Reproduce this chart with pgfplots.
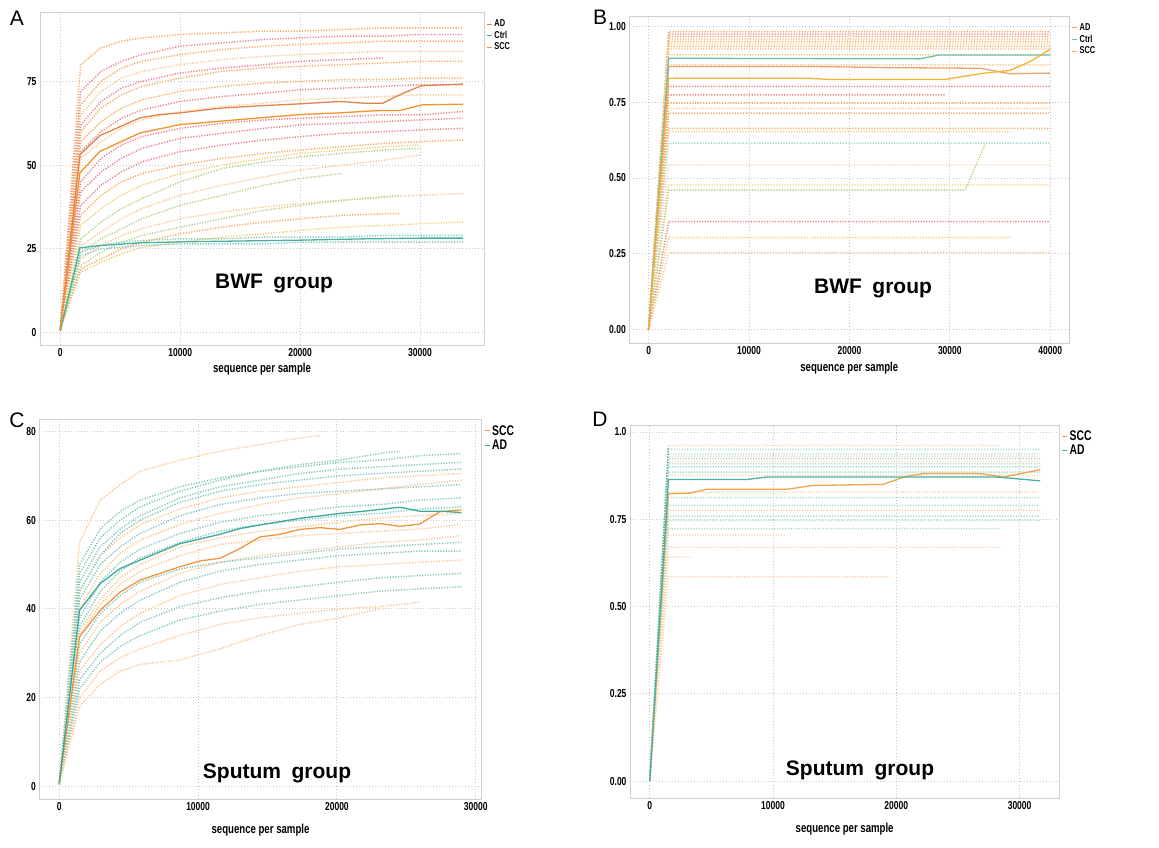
\documentclass[border=0pt]{standalone}
\usepackage{fontspec}
\setmainfont{Liberation Sans}
\newfontfamily\cond[FakeStretch=0.74]{Liberation Sans}
\usepackage{pgfplots}
\pgfplotsset{compat=1.18}
\definecolor{adA}{HTML}{E0854A}
\definecolor{sccA}{HTML}{F4922B}
\definecolor{tealA}{HTML}{4BAF9E}
\definecolor{dOr}{HTML}{F7AA60}
\definecolor{dLo}{HTML}{F9C590}
\definecolor{dPk}{HTML}{EC8088}
\definecolor{dYe}{HTML}{F0CD72}
\definecolor{dGr}{HTML}{AFD285}
\definecolor{dTe}{HTML}{80C8BB}
\definecolor{dTe2}{HTML}{A5DAD0}
\definecolor{dLo2}{HTML}{FAD5AE}
\definecolor{adB}{HTML}{EFA06C}
\definecolor{tealB}{HTML}{6CC0B0}
\definecolor{sccB}{HTML}{F6B232}
\definecolor{sccC}{HTML}{F0963A}
\definecolor{adC}{HTML}{3FA89A}
\definecolor{sccD}{HTML}{F2A54E}
\definecolor{adD}{HTML}{4AB0A2}
\definecolor{frame}{HTML}{CFCFCF}
\pgfplotsset{
 panel/.style={scale only axis, axis line style={draw=frame, line width=0.8pt},
  tick style={draw=none}, xmajorgrids, ymajorgrids,
  major grid style={draw=gray!45, line width=0.9pt, dash pattern=on 1pt off 2.2pt},
  tick label style={font=\cond\bfseries\fontsize{11.5}{13}\selectfont, text=black},
  xlabel style={font=\cond\bfseries\fontsize{13}{15}\selectfont},
  scaled x ticks=false, scaled y ticks=false,
  /pgf/number format/assume math mode=true, /pgf/number format/1000 sep={},
  unbounded coords=jump,
  legend style={draw=none, fill=none, font=\cond\bfseries\fontsize{10}{11}\selectfont,
   at={(1.005,0.985)}, anchor=north west, inner sep=0pt, row sep=-1pt},
  legend cell align=left,
  legend image code/.code={\draw[#1, line width=1pt] (0pt,0pt) -- (5pt,0pt);}},
 dots/.style={line width=1.45pt, dash pattern=on 1.2pt off 1.5pt, forget plot},
 sline/.style={line width=1.3pt, solid}
}
\begin{document}
\begin{tikzpicture}
\path[use as bounding box] (0pt,0pt) rectangle (1159pt,-847pt);
% ---------------- A ----------------
\begin{axis}[panel, at={(40pt,-12.7pt)}, anchor=north west, width=444pt, height=332.3pt,
 xmin=-1693, xmax=35337, ymin=-3.7, ymax=95.5, xtick={0,10000,20000,30000}, ytick={0,25,50,75},
 xlabel={sequence per sample}]
\addplot[dots, dOr] coordinates {(0,1)(1700,80)(3400,85)(5100,87)(6800,88)(10000,89)(13500,89.5)(17000,90)(20000,90)(23500,90.5)(27000,91)(30000,91)(33600,91)};
\addplot[dots, dPk] coordinates {(0,1)(1700,72)(3400,78)(5100,81)(6800,83)(10000,85.5)(13500,86.5)(17000,87.5)(20000,88)(23500,88.5)(27000,88.5)(30000,89)(33600,89)};
\addplot[dots, dOr] coordinates {(0,1)(1700,68)(3400,75)(5100,79)(6800,81)(10000,83)(13500,84.5)(17000,85.5)(20000,86)(23500,86.5)(27000,87)(30000,87)(33600,87)};
\addplot[dots, dLo] coordinates {(0,1)(1700,65)(3400,72)(5100,76)(6800,78)(10000,80)(13500,81.5)(17000,82.5)(20000,83)(23500,83.5)(27000,84)(30000,84)(33600,84)};
\addplot[dots, dPk] coordinates {(0,1)(1700,62)(3400,69)(5100,73)(6800,75)(10000,77.5)(13500,79)(17000,80)(20000,81)(23500,81.5)(27000,82)};
\addplot[dots, dOr] coordinates {(0,1)(1700,60)(3400,67)(5100,71)(6800,73.5)(10000,76)(13500,78)(17000,79)(20000,79.5)(23500,80)(27000,80.5)(30000,81)(33600,81)};
\addplot[dots, dOr] coordinates {(0,1)(1700,57)(3400,63)(5100,67)(6800,69.5)(10000,72)(13500,73.5)(17000,74.5)(20000,75)(23500,75.5)(27000,75.5)(30000,76)(33600,76)};
\addplot[dots, dPk] coordinates {(0,1)(1700,54)(3400,60)(5100,64)(6800,66.5)(10000,69)(13500,70.5)(17000,71.5)(20000,72.5)(23500,73)(27000,73.5)(30000,74)(33600,74)};
\addplot[dots, dLo] coordinates {(0,1)(1700,52)(3400,57)(5100,61)(6800,63.5)(10000,66)(13500,67.5)(17000,68.5)(20000,69.5)(23500,70)(27000,70.5)(30000,71)(33600,71)};
\addplot[dots, dPk] coordinates {(0,1)(1700,45)(3400,52)(5100,56)(6800,58.5)(10000,61)(13500,62.5)(17000,63.5)(20000,64)(23500,64.5)(27000,65)(30000,65)(33600,66)};
\addplot[dots, dPk] coordinates {(0,1)(1700,42)(3400,48)(5100,52)(6800,55)(10000,58)(13500,59.5)(17000,61)(20000,62)(23500,62.5)(27000,63)(30000,63.5)(33600,64)};
\addplot[dots, dPk] coordinates {(0,1)(1700,38)(3400,44)(5100,48)(6800,51)(10000,54)(13500,56)(17000,57.5)(20000,58.5)(23500,59.5)(27000,60)(30000,60.5)(33600,61)};
\addplot[dots, dOr] coordinates {(0,1)(1700,35)(3400,41)(5100,45)(6800,47.5)(10000,50)(13500,52)(17000,53.5)(20000,54.5)(23500,55.5)(27000,56.5)(30000,57)(33600,57.5)};
\addplot[dots, dYe] coordinates {(0,1)(1700,32)(3400,37)(5100,41)(6800,44)(10000,47.5)(13500,50)(17000,52)(20000,53.5)(23500,54.5)(27000,55.5)(30000,56)};
\addplot[dots, dGr] coordinates {(0,1)(1700,28)(3400,33)(5100,37)(6800,40)(10000,45)(13500,49)(17000,51)(20000,52.5)(23500,53.5)(27000,54.5)(30000,55)};
\addplot[dots, dLo] coordinates {(0,1)(1700,26)(3400,30)(5100,34)(6800,37)(10000,41)(13500,44)(17000,46.5)(20000,48.5)(23500,50)(27000,51.5)(30000,53)};
\addplot[dots, dGr] coordinates {(0,1)(1700,24)(3400,28)(5100,31)(6800,34)(10000,38)(13500,41)(17000,44)(20000,46)(23500,47.5)};
\addplot[dots, dLo] coordinates {(0,1)(1700,22)(3400,26)(5100,29)(6800,31)(10000,34)(13500,36)(17000,37.5)(20000,38.5)(23500,39.5)(27000,40.5)(30000,41)(33600,41.5)};
\addplot[dots, dGr] coordinates {(0,1)(1700,20)(3400,24)(5100,27)(6800,29)(10000,31.5)(13500,34)(17000,36.5)(20000,38)(23500,39.5)(27000,40.5)(28300,41)};
\addplot[dots, dOr] coordinates {(0,1)(1700,19)(3400,22)(5100,25)(6800,27)(10000,29.5)(13500,31.5)(17000,33)(20000,34)(23500,35)(27000,35.5)(28300,35.5)};
\addplot[dots, dYe] coordinates {(0,1)(1700,18)(3400,21)(5100,23.5)(6800,25.5)(10000,27)(13500,28.5)(17000,29.5)(20000,30.5)(23500,31.5)(27000,32)(30000,32.5)(33600,33)};
\addplot[dots, dTe] coordinates {(0,1)(1700,24)(3400,26)(5100,27)(6800,27.5)(10000,28)(13500,28)(17000,28.5)(20000,28.5)(23500,28.5)(27000,29)(30000,29)(33600,29)};
\addplot[dots, dTe] coordinates {(0,1)(1700,23)(3400,25)(5100,25.5)(6800,26)(10000,26.5)(13500,26.5)(17000,26.5)(20000,27)(23500,27)(27000,27)(30000,27)(33600,27)};
\addplot[sline, adA] coordinates {(0,1)(1640,53.1)(3300,58.8)(6640,64.1)(8300,65.1)(10000,65.6)(13300,67)(16600,67.7)(20000,68.3)(23300,69)(25250,68.5)(26900,68.5)(28300,71)(30100,73.7)(33600,74.2)};
\addlegendentry{AD}
\addplot[sline, tealA] coordinates {(0,0.5)(1640,25.3)(3300,26)(6640,26.8)(10000,27.1)(20000,27.6)(25500,28)(30000,28.2)(33600,28.2)};
\addlegendentry{Ctrl}
\addplot[sline, sccA] coordinates {(0,1)(1640,47.7)(3300,54.1)(6640,59.6)(10000,62.1)(13300,63.1)(16600,64.1)(20000,65.1)(23300,65.6)(26600,66.3)(28300,66.3)(30200,68)(33600,68.2)};
\addlegendentry{SCC}
\end{axis}
% ---------------- B ----------------
\begin{axis}[panel, at={(629.3pt,-16.7pt)}, anchor=north west, width=440pt, height=326.6pt,
 xmin=-1925, xmax=41900, ymin=-0.045, ymax=1.032, xtick={0,10000,20000,30000,40000},
 ytick={0,0.25,0.5,0.75,1}, yticklabels={0.00,0.25,0.50,0.75,1.00},
 xlabel={sequence per sample}]
\addplot[dots, dOr] coordinates {(0,0)(2000,0.983)(40000,0.983)};
\addplot[dots, dPk] coordinates {(0,0)(2000,0.975)(40000,0.975)};
\addplot[dots, dOr] coordinates {(0,0)(2000,0.967)(40000,0.967)};
\addplot[dots, dLo] coordinates {(0,0)(2000,0.958)(40000,0.958)};
\addplot[dots, dOr] coordinates {(0,0)(2000,0.950)(40000,0.950)};
\addplot[dots, dYe] coordinates {(0,0)(2000,0.942)(40000,0.942)};
\addplot[dots, dOr] coordinates {(0,0)(2000,0.934)(40000,0.934)};
\addplot[dots, dLo] coordinates {(0,0)(2000,0.926)(40000,0.926)};
\addplot[dots, dYe] coordinates {(0,0)(2000,0.906)(40000,0.906)};
\addplot[dots, dLo] coordinates {(0,0)(2000,0.873)(40000,0.873)};
\addplot[dots, dPk] coordinates {(0,0)(2000,0.802)(40000,0.802)};
\addplot[dots, dPk] coordinates {(0,0)(2000,0.774)(29500,0.774)};
\addplot[dots, dOr] coordinates {(0,0)(2000,0.747)(40000,0.747)};
\addplot[dots, dLo] coordinates {(0,0)(2000,0.730)(40000,0.730)};
\addplot[dots, dOr] coordinates {(0,0)(2000,0.714)(40000,0.714)};
\addplot[dots, dOr] coordinates {(0,0)(2000,0.664)(40000,0.664)};
\addplot[dots, dLo] coordinates {(0,0)(2000,0.653)(36000,0.653)};
\addplot[dots, dTe2] coordinates {(0,0)(2000,0.615)(40000,0.615)};
\addplot[dots, dLo2] coordinates {(0,0)(2000,0.543)(40000,0.543)};
\addplot[dots, dYe] coordinates {(0,0)(2000,0.477)(40000,0.477)};
\addplot[dots, dGr] coordinates {(0,0)(2000,0.460)(31500,0.460)(33500,0.610)};
\addplot[dots, dPk] coordinates {(0,0)(2000,0.356)(40000,0.356)};
\addplot[dots, dYe] coordinates {(0,0)(2000,0.304)(36000,0.304)};
\addplot[dots, dLo] coordinates {(0,0)(2000,0.254)(40000,0.254)};
\addplot[sline, adB] coordinates {(0,0)(2000,0.868)(16000,0.868)(24000,0.864)(33000,0.862)(36000,0.844)(40000,0.846)};
\addlegendentry{AD}
\addplot[sline, tealB] coordinates {(0,0)(2000,0.895)(27000,0.893)(29000,0.906)(40000,0.906)};
\addlegendentry{Ctrl}
\addplot[sline, sccB] coordinates {(0,0)(2000,0.829)(16000,0.829)(18000,0.825)(29500,0.825)(33000,0.844)(36000,0.855)(38000,0.884)(40000,0.925)};
\addlegendentry{SCC}
\end{axis}
% ---------------- C ----------------
\begin{axis}[panel, at={(39.3pt,-419.3pt)}, anchor=north west, width=442.4pt, height=380pt,
 xmin=-1439, xmax=30432, ymin=-2.9, ymax=82.7, xtick={0,10000,20000,30000}, ytick={0,20,40,60,80},
 xlabel={sequence per sample}, xlabel style={yshift=-6pt},
 legend style={font=\cond\bfseries\fontsize{14}{15}\selectfont, at={(1.005,0.99)}}]
\addplot[dots, dLo] coordinates {(0,0.5)(1460,55)(2950,64.5)(4390,68)(5830,71)(8700,73.5)(11580,75.5)(14460,77)(17340,78.5)(18780,79)};
\addplot[dots, dTe] coordinates {(0,0.5)(1460,50)(2950,58)(4390,62)(5830,64.5)(8700,67.5)(11580,69.5)(14460,71)(17340,72)(20220,73)(23100,73.5)(25970,74.5)(28970,75)};
\addplot[dots, dTe] coordinates {(0,0.5)(1460,48)(2950,56)(4390,60)(5830,63)(8700,66.5)(11580,69)(14460,71)(17340,72.5)(20220,73.5)(23100,75)(24530,75.5)};
\addplot[dots, dTe] coordinates {(0,0.5)(1460,46)(2950,54)(4390,58)(5830,61)(8700,65)(11580,67.5)(14460,69)(17340,70.5)(20220,71.5)(23100,72)(25970,72.5)(28970,73)};
\addplot[dots, dLo] coordinates {(0,0.5)(1460,44)(2950,52)(4390,56)(5830,59)(8700,62.5)(11580,65)(14460,66.5)(17340,67.5)(20220,68.5)(23100,69.5)(25970,70)(28970,70.5)};
\addplot[dots, dTe] coordinates {(0,0.5)(1460,44)(2950,52)(4390,57)(5830,60)(8700,64)(11580,66.5)(14460,68)(17340,69)(20220,70)(23100,70.5)(25970,71)(28970,71.5)};
\addplot[dots, dTe] coordinates {(0,0.5)(1460,42)(2950,50)(4390,54)(5830,57)(8700,61)(11580,63.5)(14460,65)(17340,66)(20220,66.5)(23100,67)(25970,67.5)(28970,68)};
\addplot[dots, dLo] coordinates {(0,0.5)(1460,40)(2950,48)(4390,52.5)(5830,55.5)(8700,59)(11580,61.5)(14460,63.5)(17340,65)(20220,66)(23100,67)(25970,68)(28970,69)};
\addplot[dots, dTe] coordinates {(0,0.5)(1460,38)(2950,46)(4390,50.5)(5830,53.5)(8700,57)(11580,59.5)(14460,61)(17340,62)(20220,63)(23100,63.5)(25970,64.5)(28970,65)};
\addplot[dots, dTe] coordinates {(0,0.5)(1460,36)(2950,44)(4390,48.5)(5830,51.5)(8700,55)(11580,57.5)(14460,59)(17340,60)(20220,61)(23100,61.5)(25970,62.5)(28970,63)};
\addplot[dots, dLo] coordinates {(0,0.5)(1460,35)(2950,42)(4390,47)(5830,50)(8700,54)(11580,56)(14460,57.5)(17340,58.5)(20220,59.5)(23100,60.5)(25970,61)(28970,61.5)};
\addplot[dots, dLo] coordinates {(0,0.5)(1460,34)(2950,41)(4390,45.5)(5830,48.5)(8700,52)(11580,54.5)(14460,55.5)(17340,56.5)(20220,57)(23100,57.5)(25970,58)(28970,59)};
\addplot[dots, dLo] coordinates {(0,0.5)(1460,30)(2950,37)(4390,41)(5830,44)(8700,48)(11580,50.5)(14460,52)(17340,53)(20220,54)(23100,55)(25970,55.5)(28970,56.5)};
\addplot[dots, dTe] coordinates {(0,0.5)(1460,32)(2950,39)(4390,43)(5830,46)(8700,49)(11580,50.5)(14460,51.5)(17340,52.5)(20220,53.5)(23100,54)(25970,54.5)(28970,55)};
\addplot[dots, dTe] coordinates {(0,0.5)(1460,28)(2950,35)(4390,39)(5830,42)(8700,46)(11580,48.5)(14460,50)(17340,51)(20220,52)(23100,52.5)(25970,53)(28970,53)};
\addplot[dots, dLo] coordinates {(0,0.5)(1460,26)(2950,32)(4390,36)(5830,39)(8700,43)(11580,45.5)(14460,47)(17340,48.5)(20220,49.5)(23100,50)(25970,50.5)(28970,51)};
\addplot[dots, dTe] coordinates {(0,0.5)(1460,24)(2950,30)(4390,34)(5830,37)(8700,40.5)(11580,42.5)(14460,44)(17340,45)(20220,46)(23100,47)(25970,47.5)(28970,48)};
\addplot[dots, dTe] coordinates {(0,0.5)(1460,22)(2950,28)(4390,31.5)(5830,34)(8700,37.5)(11580,39.5)(14460,41)(17340,42)(20220,43)(23100,44)(25970,44.5)(28970,45)};
\addplot[dots, dLo] coordinates {(0,0.5)(1460,20)(2950,26)(4390,29)(5830,31)(8700,34)(11580,36.5)(14460,38)(17340,39)(20220,40)(23100,40.5)(25970,41.5)};
\addplot[dots, dLo] coordinates {(0,0.5)(1460,18)(2950,23)(4390,26)(5830,27.5)(8700,28.5)(11580,31)(14460,34)(17340,36.5)(20220,38)(23100,40)};
\addplot[sline, sccC] coordinates {(0,0.75)(1460,33.7)(2950,39.7)(4390,43.8)(5830,46.5)(8700,49.5)(10140,50.8)(11580,51.4)(13020,53.6)(14460,56.2)(15900,56.8)(17340,57.9)(18780,58.3)(20220,57.9)(21660,58.9)(23100,59.2)(24530,58.6)(25970,59.1)(27410,61.9)(28970,62.3)};
\addlegendentry{SCC}
\addplot[sline, adC] coordinates {(0,0.75)(1460,39.7)(2950,45.7)(4390,49.1)(5830,51)(8700,54.7)(11580,56.8)(13020,58.1)(14460,58.9)(17340,60.4)(20220,61.5)(21660,61.9)(23100,62.4)(24530,62.9)(25970,62)(27410,62)(28970,61.7)};
\addlegendentry{AD}
\end{axis}
% ---------------- D ----------------
\begin{axis}[panel, at={(630pt,-425pt)}, anchor=north west, width=429.3pt, height=373.3pt,
 xmin=-1600, xmax=33220, ymin=-0.049, ymax=1.02, xtick={0,10000,20000,30000},
 ytick={0,0.25,0.5,0.75,1}, yticklabels={0.00,0.25,0.50,0.75,1.0},
 xlabel={sequence per sample}, xlabel style={yshift=-6pt},
 legend style={font=\cond\bfseries\fontsize{14}{15}\selectfont, at={(1.005,0.99)}}]
\addplot[dots, dLo2] coordinates {(0,0)(1515,0.962)(28500,0.962)};
\addplot[dots, dTe2] coordinates {(0,0)(1515,0.950)(31670,0.950)};
\addplot[dots, dTe2] coordinates {(0,0)(1515,0.937)(31670,0.937)};
\addplot[dots, dLo2] coordinates {(0,0)(1515,0.930)(31670,0.930)};
\addplot[dots, dTe2] coordinates {(0,0)(1515,0.924)(31670,0.924)};
\addplot[dots, dLo2] coordinates {(0,0)(1515,0.915)(31670,0.915)};
\addplot[dots, dTe2] coordinates {(0,0)(1515,0.909)(31670,0.909)};
\addplot[dots, dTe2] coordinates {(0,0)(1515,0.900)(31670,0.900)};
\addplot[dots, dTe2] coordinates {(0,0)(1515,0.885)(31670,0.885)};
\addplot[dots, dLo2] coordinates {(0,0)(1515,0.876)(31670,0.876)};
\addplot[dots, dLo2] coordinates {(0,0)(1515,0.828)(31670,0.828)};
\addplot[dots, dTe2] coordinates {(0,0)(1515,0.812)(31670,0.812)};
\addplot[dots, dTe2] coordinates {(0,0)(1515,0.790)(31670,0.790)};
\addplot[dots, dLo2] coordinates {(0,0)(1515,0.776)(31670,0.776)};
\addplot[dots, dTe2] coordinates {(0,0)(1515,0.759)(31670,0.759)};
\addplot[dots, dTe2] coordinates {(0,0)(1515,0.747)(31670,0.747)};
\addplot[dots, dTe2] coordinates {(0,0)(1515,0.723)(28500,0.723)};
\addplot[dots, dLo2] coordinates {(0,0)(1515,0.704)(11000,0.704)};
\addplot[dots, dLo2] coordinates {(0,0)(1515,0.670)(28500,0.670)};
\addplot[dots, dLo2] coordinates {(0,0)(1515,0.642)(3300,0.642)};
\addplot[dots, dLo2] coordinates {(0,0)(1515,0.585)(19500,0.585)};
\addplot[dots, adD] coordinates {(0,0)(1515,0.955)};
\addplot[sline, sccD] coordinates {(0,0)(1515,0.823)(3270,0.825)(4630,0.836)(11120,0.836)(13280,0.847)(18960,0.85)(20580,0.871)(22200,0.881)(26800,0.881)(28700,0.871)(31670,0.892)};
\addlegendentry{SCC}
\addplot[sline, adD] coordinates {(0,0)(1515,0.864)(7870,0.864)(9490,0.871)(21400,0.871)(28160,0.871)(31670,0.86)};
\addlegendentry{AD}
\end{axis}
% texts
\node[font=\bfseries\fontsize{21}{24}\selectfont] at (274pt,-283pt) {BWF\hspace{0.5em}group};
\node[font=\bfseries\fontsize{21}{24}\selectfont] at (873pt,-288pt) {BWF\hspace{0.5em}group};
\node[font=\bfseries\fontsize{21}{24}\selectfont] at (277pt,-773pt) {Sputum\hspace{0.5em}group};
\node[font=\bfseries\fontsize{21}{24}\selectfont] at (860pt,-770pt) {Sputum\hspace{0.5em}group};
\node[font=\fontsize{21}{24}\selectfont] at (17pt,-18pt) {A};
\node[font=\fontsize{21}{24}\selectfont] at (600pt,-17pt) {B};
\node[font=\fontsize{21}{24}\selectfont] at (17pt,-420pt) {C};
\node[font=\fontsize{21}{24}\selectfont] at (600pt,-419pt) {D};
\end{tikzpicture}
\end{document}
